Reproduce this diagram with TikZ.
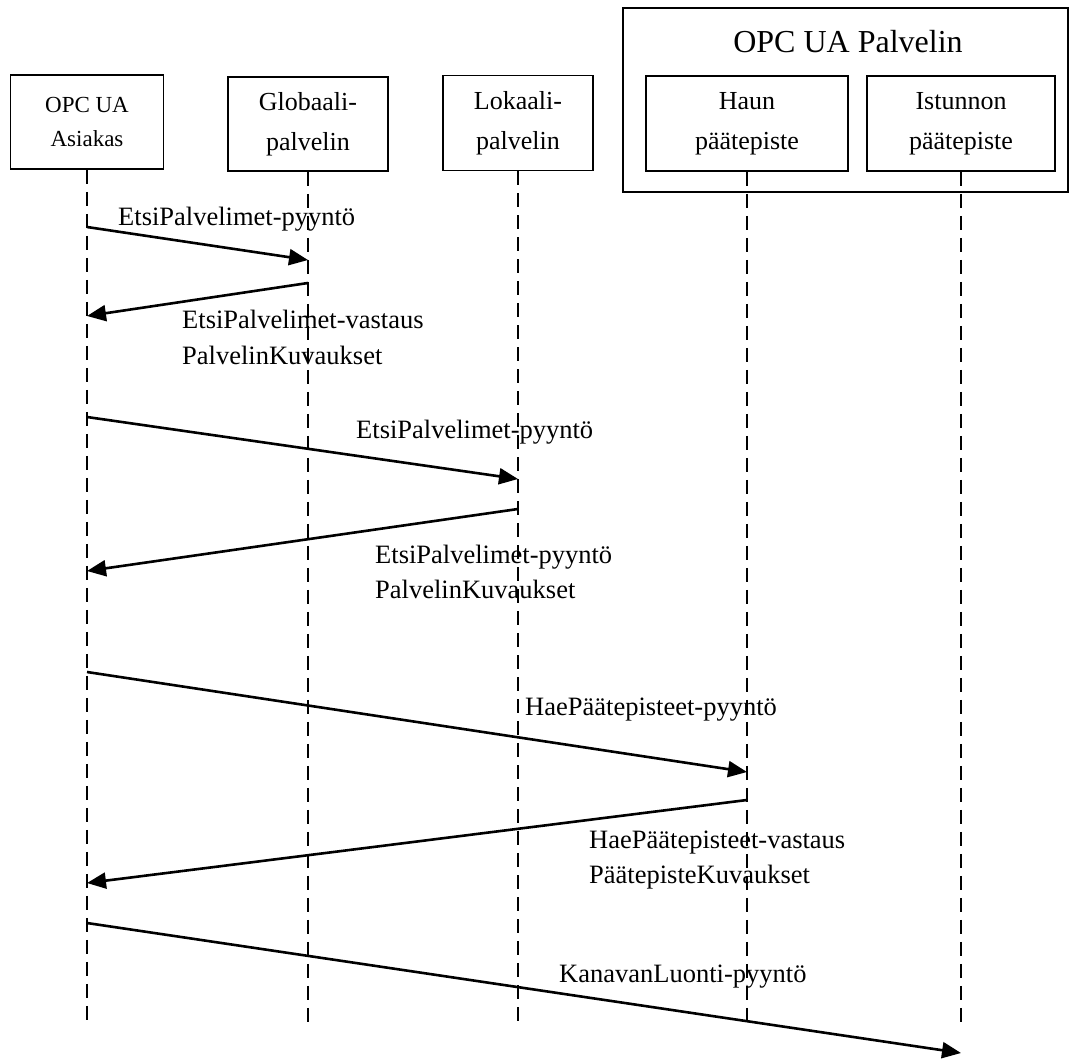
\documentclass[tikz,border=0pt]{standalone}
\usepackage{fontspec}
\setmainfont{Liberation Serif}
\usetikzlibrary{arrows.meta}
\begin{document}
\begin{tikzpicture}[x=1pt,y=-1pt,
  box/.style={draw, line width=1.8pt, inner sep=0pt, align=center, font=\fontsize{26}{40}\selectfont},
  life/.style={line width=1.6pt, dash pattern=on 14pt off 8pt},
  msg/.style={line width=2.6pt, -{Triangle[length=19pt,width=16pt]}},
  lbl/.style={anchor=base west, inner sep=0pt, font=\fontsize{26.5}{31}\selectfont}]
\useasboundingbox (0,0) rectangle (1070,1059);

% outer server box
\node[draw, line width=1.8pt, inner sep=0pt, minimum width=445pt, minimum height=184pt] (S) at (845.5,100) {};
\node[anchor=base, inner sep=0pt, font=\fontsize{32}{38}\selectfont] (T) at (848,53) {OPC UA Palvelin};

% participant boxes
\node[box, minimum width=153pt, minimum height=94pt, font=\fontsize{23}{34}\selectfont] (A) at (87,122) {OPC UA\\Asiakas};
\node[box, minimum width=160pt, minimum height=94pt] (G) at (308,124) {Globaali-\\palvelin};
\node[box, minimum width=150pt, minimum height=95pt] (L) at (518,123) {Lokaali-\\palvelin};
\node[box, minimum width=202pt, minimum height=95pt] (H) at (747,123.5) {Haun\\päätepiste};
\node[box, minimum width=188pt, minimum height=95pt] (I) at (961,123.5) {Istunnon\\päätepiste};

% lifelines
\coordinate (Ae) at (87,1022);
\coordinate (Ge) at (308,1022);
\coordinate (Le) at (518,1022);
\coordinate (He) at (747,1022);
\coordinate (Ie) at (961,1022);
\draw[life] (A.south) -- (Ae);
\draw[life] (G.south) -- (Ge);
\draw[life] (L.south) -- (Le);
\draw[life] (H.south) -- (He);
\draw[life] (I.south) -- (Ie);

% messages
\coordinate (m1s) at (87,227);   \coordinate (m1e) at (308,260);
\coordinate (m2s) at (308,283);  \coordinate (m2e) at (87,316);
\coordinate (m3s) at (87,417);   \coordinate (m3e) at (518,479);
\coordinate (m4s) at (518,509);  \coordinate (m4e) at (87,571);
\coordinate (m5s) at (87,672);   \coordinate (m5e) at (747,772);
\coordinate (m6s) at (747,800);  \coordinate (m6e) at (87,883);
\coordinate (m7s) at (87,923);   \coordinate (m7e) at (961,1053);
\draw[msg] (m1s) -- (m1e);
\draw[msg] (m2s) -- (m2e);
\draw[msg] (m3s) -- (m3e);
\draw[msg] (m4s) -- (m4e);
\draw[msg] (m5s) -- (m5e);
\draw[msg] (m6s) -- (m6e);
\draw[msg] (m7s) -- (m7e);

% labels
\node[lbl] (l1) at (118,226) {EtsiPalvelimet-pyyntö};
\node[lbl] (l2a) at (182,328) {EtsiPalvelimet-vastaus};
\node[lbl] (l2b) at (182,364) {PalvelinKuvaukset};
\node[lbl] (l3) at (356,438) {EtsiPalvelimet-pyyntö};
\node[lbl] (l4a) at (375,563) {EtsiPalvelimet-pyyntö};
\node[lbl] (l4b) at (375,598) {PalvelinKuvaukset};
\node[lbl] (l5) at (525,715) {HaePäätepisteet-pyyntö};
\node[lbl] (l6a) at (589,848) {HaePäätepisteet-vastaus};
\node[lbl] (l6b) at (589,883) {PäätepisteKuvaukset};
\node[lbl] (l7) at (559,982) {KanavanLuonti-pyyntö};
\end{tikzpicture}
\end{document}
